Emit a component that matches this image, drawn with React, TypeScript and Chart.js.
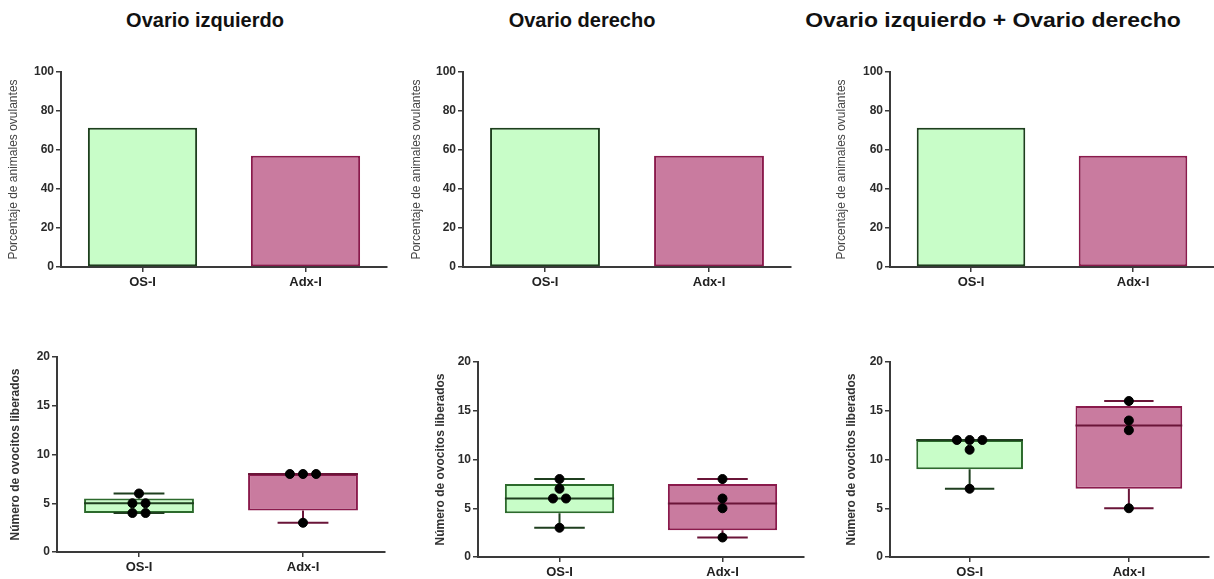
import React, { useEffect, useRef } from "react";
import { Chart, registerables } from "chart.js";

Chart.register(...registerables);

// ---------- data ----------
const groups = ["OS-I", "Adx-I"];
const panelTitles = ["Ovario izquierdo", "Ovario derecho", "Ovario izquierdo + Ovario derecho"];
const pctAxisTitle = "Porcentaje de animales ovulantes";
const ovoAxisTitle = "Número de ovocitos liberados";
const pctTicks = [0, 20, 40, 60, 80, 100];
const ovoTicks = [0, 5, 10, 15, 20];

const pctIzquierdo = [71.4, 57.1];
const pctDerecho = [71.4, 57.1];
const pctAmbos = [71.4, 57.1];

const ovoIzqOS = [6, 5, 5, 4, 4];
const ovoIzqAdx = [8, 8, 8, 3];
const ovoDerOS = [8, 7, 6, 6, 3];
const ovoDerAdx = [8, 6, 5, 2];
const ovoAmbosOS = [12, 12, 12, 11, 7];
const ovoAmbosAdx = [16, 14, 13, 5];

// ---------- styles ----------
const FONT = "'Liberation Sans', Arial, sans-serif";
const osFill = "#c8fdc8";
const adxFill = "#c97b9f";
const osBarBorder = "#1d3f1d";
const osBoxBorder = "#2c6a2c";
const adxBorder = "#8a1a4c";
const osWhisker = "#1f3f1f";
const adxWhisker = "#6a1538";
const axisColor = "#3a3a3a";

// ---------- helpers ----------
function quantile(values: number[], p: number) {
  const s = [...values].sort((a, b) => a - b);
  const n = s.length;
  const pos = p * (n + 1);
  if (pos <= 1) return s[0];
  if (pos >= n) return s[n - 1];
  const lo = Math.floor(pos);
  const f = pos - lo;
  return s[lo - 1] + f * (s[lo] - s[lo - 1]);
}

function stats(values: number[]) {
  return {
    min: Math.min(...values),
    max: Math.max(...values),
    q1: quantile(values, 0.25),
    med: quantile(values, 0.5),
    q3: quantile(values, 0.75),
  };
}

const JITTER = 0.08;
const BOX_HALF = 0.335;
const CAP_HALF = 0.155;

function dotPoints(values: number[], idx: number) {
  const counts: Record<number, number> = {};
  values.forEach((v) => (counts[v] = (counts[v] || 0) + 1));
  const seen: Record<number, number> = {};
  return values.map((v) => {
    const k = seen[v] || 0;
    seen[v] = k + 1;
    const n = counts[v];
    return { x: idx + (k - (n - 1) / 2) * JITTER, y: v };
  });
}

function whiskerSegments(values: number[], idx: number) {
  const s = stats(values);
  const gap = { x: idx, y: null as any };
  return [
    { x: idx, y: s.q3 }, { x: idx, y: s.max }, gap,
    { x: idx - CAP_HALF, y: s.max }, { x: idx + CAP_HALF, y: s.max }, gap,
    { x: idx, y: s.q1 }, { x: idx, y: s.min }, gap,
    { x: idx - CAP_HALF, y: s.min }, { x: idx + CAP_HALF, y: s.min }, gap,
    { x: idx - BOX_HALF, y: s.med }, { x: idx + BOX_HALF, y: s.med },
  ];
}

type Geo = {
  left: number; top: number; width: number; height: number;
  padL: number; padR: number; padT: number; yWidth: number; xHeight: number;
  yTitlePad: number;
};

function yAxis(max: number, ticks: number[], title: string, titleFont: any, titleColor: string, geo: Geo) {
  return {
    type: "linear",
    min: 0,
    max,
    afterBuildTicks: (s: any) => { s.ticks = ticks.map((v) => ({ value: v })); },
    afterFit: (s: any) => { s.width = geo.yWidth; },
    ticks: { color: "#2b2b2b", font: { family: FONT, size: 12, weight: "bold" }, padding: 2 },
    grid: { drawOnChartArea: false, drawTicks: true, tickLength: 5, color: axisColor, lineWidth: 1.5 },
    border: { display: true, color: axisColor, width: 2 },
    title: { display: true, text: title, color: titleColor, font: titleFont, padding: { top: geo.yTitlePad, bottom: 0 } },
  };
}

function xAxis(geo: Geo) {
  return {
    type: "category",
    labels: groups,
    offset: true,
    afterFit: (s: any) => { s.height = geo.xHeight; },
    grid: { offset: false, drawOnChartArea: false, drawTicks: true, tickLength: 5, color: axisColor, lineWidth: 1.5 },
    border: { display: true, color: axisColor, width: 2 },
    ticks: { color: "#222", font: { family: FONT, size: 13, weight: "bold" }, padding: 3 },
  };
}

function baseOptions(geo: Geo) {
  return {
    responsive: false,
    animation: false,
    devicePixelRatio: 1,
    layout: { padding: { left: geo.padL, right: geo.padR, top: geo.padT, bottom: 0 } },
    plugins: { legend: { display: false }, tooltip: { enabled: false }, title: { display: false } },
  };
}

function barConfig(values: number[], geo: Geo): any {
  return {
    type: "bar",
    data: {
      labels: groups,
      datasets: [{
        data: values,
        backgroundColor: [osFill, adxFill],
        borderColor: [osBarBorder, adxBorder],
        borderWidth: 2,
        borderSkipped: false,
        barPercentage: 0.67,
        categoryPercentage: 1,
      }],
    },
    options: {
      ...baseOptions(geo),
      scales: {
        x: xAxis(geo),
        y: yAxis(100, pctTicks, pctAxisTitle, { family: FONT, size: 12 }, "#444", geo),
      },
    },
  };
}

function boxConfig(os: number[], adx: number[], geo: Geo): any {
  const sOS = stats(os);
  const sAdx = stats(adx);
  return {
    type: "bar",
    data: {
      labels: groups,
      datasets: [
        {
          type: "scatter",
          xAxisID: "x2",
          data: [...dotPoints(os, 0), ...dotPoints(adx, 1)],
          pointRadius: 4.5,
          pointBackgroundColor: "#000",
          pointBorderColor: "#000",
          showLine: false,
          order: 1,
        },
        {
          type: "line",
          xAxisID: "x2",
          data: whiskerSegments(os, 0),
          borderColor: osWhisker,
          borderWidth: 2,
          pointRadius: 0,
          spanGaps: false,
          fill: false,
          order: 2,
        },
        {
          type: "line",
          xAxisID: "x2",
          data: whiskerSegments(adx, 1),
          borderColor: adxWhisker,
          borderWidth: 2,
          pointRadius: 0,
          spanGaps: false,
          fill: false,
          order: 2,
        },
        {
          type: "bar",
          xAxisID: "x",
          grouped: false,
          data: [[sOS.q1, sOS.q3], [sAdx.q1, sAdx.q3]],
          backgroundColor: [osFill, adxFill],
          borderColor: [osBoxBorder, adxBorder],
          borderWidth: 2,
          borderSkipped: false,
          barPercentage: 0.67,
          categoryPercentage: 1,
          order: 3,
        },
      ],
    },
    options: {
      ...baseOptions(geo),
      scales: {
        x: xAxis(geo),
        x2: { type: "linear", min: -0.5, max: 1.5, offset: false, display: false },
        y: yAxis(20, ovoTicks, ovoAxisTitle, { family: FONT, size: 12, weight: "bold" }, "#333", geo),
      },
    },
  };
}

// ---------- layout ----------
const geoTop: Geo[] = [
  { left: 0, top: 40, width: 400, height: 260, padL: 0, padR: 13, padT: 32, yWidth: 61, xHeight: 33, yTitlePad: 6.8 },
  { left: 403, top: 40, width: 400, height: 260, padL: 0, padR: 12, padT: 32, yWidth: 60, xHeight: 33, yTitlePad: 6.8 },
  { left: 830, top: 40, width: 384, height: 260, padL: 0, padR: 0, padT: 32, yWidth: 60, xHeight: 33, yTitlePad: 4.8 },
];
const geoBottom: Geo[] = [
  { left: 0, top: 340, width: 400, height: 239, padL: 0, padR: 15, padT: 17, yWidth: 57, xHeight: 27, yTitlePad: 8.8 },
  { left: 400, top: 340, width: 410, height: 239, padL: 28, padR: 6, padT: 22, yWidth: 50, xHeight: 22, yTitlePad: 5.2 },
  { left: 800, top: 340, width: 414, height: 239, padL: 40, padR: 0, padT: 22, yWidth: 50, xHeight: 22, yTitlePad: 4.8 },
];
const titleCenters = [205, 582, 993];
const titleStretch = [1, 1, 1.147];

function ChartPanel({ geo, make }: { geo: Geo; make: () => any }) {
  const ref = useRef<HTMLCanvasElement>(null);
  useEffect(() => {
    const chart = new Chart(ref.current as HTMLCanvasElement, make());
    return () => chart.destroy();
  }, []);
  return (
    <canvas
      ref={ref}
      width={geo.width}
      height={geo.height}
      style={{ position: "absolute", left: geo.left, top: geo.top, width: geo.width, height: geo.height }}
    />
  );
}

export default function App() {
  return (
    <div style={{ position: "fixed", left: 0, top: 0, width: 1214, height: 579, background: "#fff", overflow: "hidden" }}>
      {panelTitles.map((t, i) => (
        <div
          key={t}
          style={{
            position: "absolute",
            left: titleCenters[i] - 300,
            width: 600,
            top: 8,
            textAlign: "center",
            fontFamily: FONT,
            fontWeight: "bold",
            fontSize: 20,
            lineHeight: "24px",
            color: "#111",
            whiteSpace: "nowrap",
            transform: `scaleX(${titleStretch[i]})`,
          }}
        >
          {t}
        </div>
      ))}
      <ChartPanel geo={geoTop[0]} make={() => barConfig(pctIzquierdo, geoTop[0])} />
      <ChartPanel geo={geoTop[1]} make={() => barConfig(pctDerecho, geoTop[1])} />
      <ChartPanel geo={geoTop[2]} make={() => barConfig(pctAmbos, geoTop[2])} />
      <ChartPanel geo={geoBottom[0]} make={() => boxConfig(ovoIzqOS, ovoIzqAdx, geoBottom[0])} />
      <ChartPanel geo={geoBottom[1]} make={() => boxConfig(ovoDerOS, ovoDerAdx, geoBottom[1])} />
      <ChartPanel geo={geoBottom[2]} make={() => boxConfig(ovoAmbosOS, ovoAmbosAdx, geoBottom[2])} />
    </div>
  );
}
